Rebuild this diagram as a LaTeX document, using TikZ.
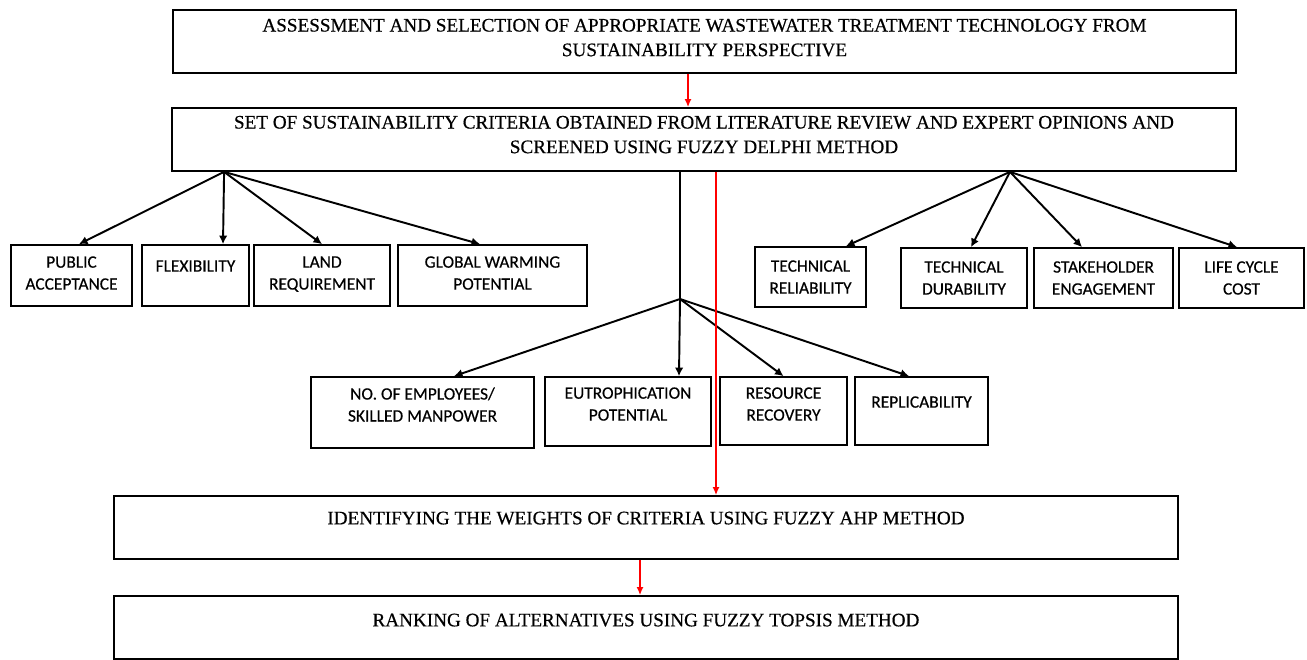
\documentclass[tikz,border=0pt]{standalone}
\usepackage{fontspec}
\setmainfont{Liberation Serif}[FakeBold=0.5]
\newfontfamily\critfont{Carlito}[FakeBold=0.4]
\usepackage{tikz}
\usetikzlibrary{positioning, arrows.meta, calc}
\definecolor{flowred}{RGB}{255,0,0}

\begin{document}
\begin{tikzpicture}[x=0.02cm, y=-0.02cm,
        stage/.style={draw, line width=1pt, rectangle, minimum width=21.28cm, minimum height=1.26cm, align=center, font=\fontsize{10.9}{14}\selectfont},
        crit/.style={draw, line width=1pt, rectangle, minimum height=1.22cm, align=center, font=\critfont\fontsize{9.9}{12.5}\selectfont},
        tree/.style={-{Latex[length=1.7mm, width=1.7mm]}, line width=1.1pt},
        flow/.style={-{Latex[length=1.6mm, width=1.4mm]}, flowred, line width=0.9pt}]
        \useasboundingbox (0,0) rectangle (1307,659);

        % Method boxes
        \node[stage, minimum width=21.26cm, text depth=0.16cm] (assess) at (704.5,41.5) {ASSESSMENT AND SELECTION OF APPROPRIATE WASTEWATER TREATMENT TECHNOLOGY FROM\\SUSTAINABILITY PERSPECTIVE};
        \node[stage, text depth=0.2cm] (delphi) at (704,139.5) {SET OF SUSTAINABILITY CRITERIA OBTAINED FROM LITERATURE REVIEW AND EXPERT OPINIONS AND\\SCREENED USING FUZZY DELPHI METHOD};
        \node[stage, text depth=0.38cm] (ahp) at (646,527.5) {IDENTIFYING THE WEIGHTS OF CRITERIA USING FUZZY AHP METHOD};
        \node[stage, text depth=0.3cm] (topsis) at (646,627.5) {RANKING OF ALTERNATIVES USING FUZZY TOPSIS METHOD};

        % Criteria, left group
        \node[crit, minimum width=2.42cm, text depth=0.1cm] (pub) at (71.5,275.5) {PUBLIC\\ACCEPTANCE};
        \node[crit, minimum width=2.14cm, text depth=0.38cm] (flex) at (195.5,275.5) {FLEXIBILITY};
        \node[crit, minimum width=2.72cm, text depth=0.1cm] (land) at (322,275.5) {LAND\\REQUIREMENT};
        \node[crit, minimum width=3.78cm, text depth=0.1cm] (gwp) at (492.5,275.5) {GLOBAL WARMING\\POTENTIAL};

        % Criteria, right group
        \node[crit, minimum width=2.22cm, minimum height=1.2cm] (trel) at (810.5,277) {TECHNICAL\\RELIABILITY};
        \node[crit, minimum width=2.52cm, minimum height=1.2cm] (tdur) at (964,278) {TECHNICAL\\DURABILITY};
        \node[crit, minimum width=2.78cm, minimum height=1.2cm] (stake) at (1103.5,278) {STAKEHOLDER\\ENGAGEMENT};
        \node[crit, minimum width=2.5cm, minimum height=1.2cm] (lcc) at (1241.5,278) {LIFE CYCLE\\COST};

        % Criteria, middle group
        \node[crit, minimum width=4.46cm, minimum height=1.42cm, text depth=0.32cm] (staff) at (422.5,412.5) {NO. OF EMPLOYEES/\\SKILLED MANPOWER};
        \node[crit, minimum width=3.32cm, minimum height=1.38cm, text depth=0.3cm] (eutro) at (628,411.5) {EUTROPHICATION\\POTENTIAL};
        \node[crit, minimum width=2.54cm, minimum height=1.36cm, text depth=0.28cm] (recov) at (783.5,411) {RESOURCE\\RECOVERY};
        \node[crit, minimum width=2.66cm, minimum height=1.36cm, text depth=0.36cm] (repl) at (921.5,411) {REPLICABILITY};

        % Fan points
        \coordinate (lfan) at ([xshift=-9.6cm]delphi.south);
        \coordinate (rfan) at ([xshift=6.12cm]delphi.south);
        \coordinate (mfan) at (680,299);

        % Tree arrows
        \draw[tree] (lfan) -- ([xshift=0.15cm]pub.north);
        \draw[tree] (lfan) -- ([xshift=0.55cm]flex.north);
        \draw[tree] (lfan) -- (land.north);
        \draw[tree] (lfan) -- ([xshift=-0.25cm]gwp.north);

        \draw[tree] (rfan) -- ([xshift=0.71cm]trel.north);
        \draw[tree] (rfan) -- ([xshift=0.14cm]tdur.north);
        \draw[tree] (rfan) -- ([xshift=-0.43cm]stake.north);
        \draw[tree] (rfan) -- ([xshift=-0.09cm]lcc.north);

        \draw[line width=1.1pt] (delphi.south -| mfan) -- (mfan);
        \draw[tree] (mfan) -- ([xshift=0.63cm]staff.north);
        \draw[tree] (mfan) -- ([xshift=1.02cm]eutro.north);
        \draw[tree] (mfan) -- (recov.north);
        \draw[tree] (mfan) -- ([xshift=-0.25cm]repl.north);

        % Flow arrows
        \draw[flow] ([xshift=-0.33cm]assess.south) -- ([xshift=-0.33cm]assess.south |- delphi.north);
        \draw[flow] ([xshift=0.24cm]delphi.south) -- ([xshift=0.24cm]delphi.south |- ahp.north);
        \draw[flow] ([xshift=-0.12cm]ahp.south) -- ([xshift=-0.12cm]ahp.south |- topsis.north);
    \end{tikzpicture}
\end{document}
